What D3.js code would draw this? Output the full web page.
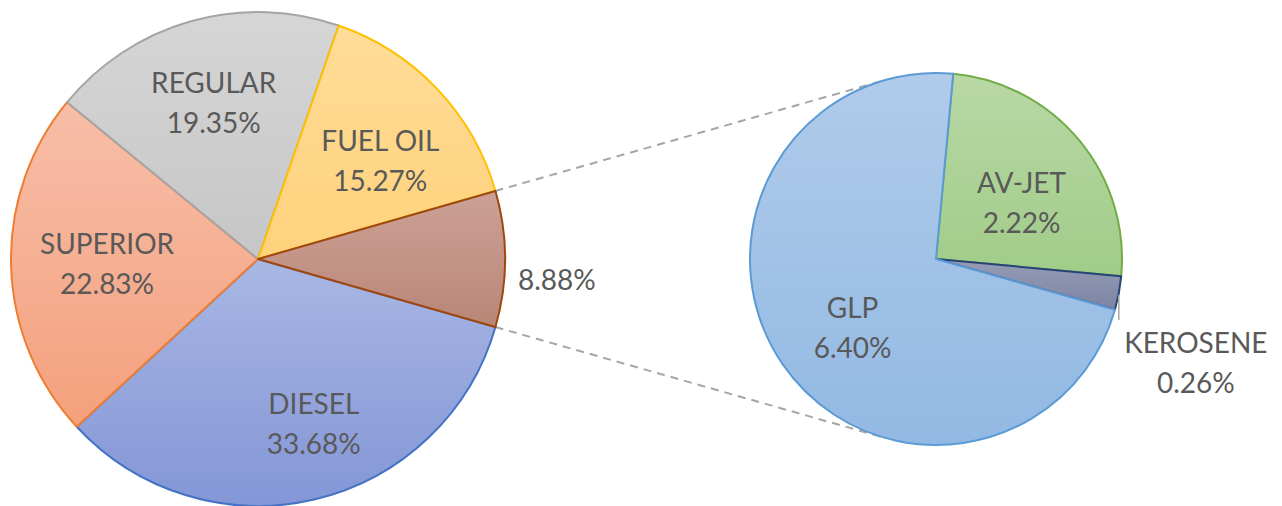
<!DOCTYPE html>
<html>
<head>
<meta charset="utf-8">
<script src="https://cdn.jsdelivr.net/npm/d3@7"></script>
<style>
  body { margin: 0; background: #fff; }
  svg text { font-family: Lato, "Open Sans", sans-serif; fill: #595959; }
</style>
</head>
<body>
<div id="chart"></div>
<script>
// main pie, clockwise starting after the "other" slice
const mainNames = ["DIESEL", "SUPERIOR", "REGULAR", "FUEL OIL", "OTHER"];
const mainValues = [33.68, 22.83, 19.35, 15.27, 8.88];
const mainLabels = ["33.68%", "22.83%", "19.35%", "15.27%", "8.88%"];

// second pie (breakdown of the 8.88%)
const subNames = ["AV-JET", "KEROSENE", "GLP"];
const subValues = [2.22, 0.26, 6.40];
const subLabels = ["2.22%", "0.26%", "6.40%"];

const mainStroke = ["#4472c4", "#ed7d31", "#a5a5a5", "#ffc000", "#9e480e"];
const mainFill = [["#a9b7e4", "#8396d6"], ["#f7bea9", "#f4a07c"], ["#d6d6d6", "#c6c6c6"],
                  ["#ffdc98", "#ffd27c"], ["#cda196", "#b98677"]];
const subStroke = ["#70ad47", "#264478", "#5b9bd5"];
const subFill = [["#b8d8a6", "#a1cc88"], ["#959cb6", "#7c84a3"], ["#b1cbea", "#92b9e3"]];

// small label nudges (px) on top of the computed centroid
const mainNudge = [[18, 6], [12, 0], [0, 0], [4, 14], [0, 21]];
const subNudge = [[4, 11], [0, 0], [4, 9]];

const width = 1282, height = 506;
const svg = d3.select("#chart").append("svg")
  .attr("width", width).attr("height", height);
const defs = svg.append("defs");

function grad(id, c) {
  const g = defs.append("linearGradient").attr("id", id)
    .attr("x1", 0).attr("y1", 0).attr("x2", 0).attr("y2", 1);
  g.append("stop").attr("offset", 0).attr("stop-color", c[0]);
  g.append("stop").attr("offset", 1).attr("stop-color", c[1]);
}
mainFill.forEach((c, i) => grad("gm" + i, c));
subFill.forEach((c, i) => grad("gs" + i, c));

// main pie geometry
const cx1 = 258, cy1 = 259, r1 = 247;
const otherAngle = mainValues[4] / d3.sum(mainValues) * 2 * Math.PI;
const start1 = Math.PI / 2 + otherAngle / 2;
const pie1 = d3.pie().sort(null).startAngle(start1).endAngle(start1 + 2 * Math.PI);
const arcs1 = pie1(mainValues);
const arc1 = d3.arc().innerRadius(0).outerRadius(r1);

// second pie geometry
const cx2 = 936, cy2 = 259, r2 = 186;
const avAngle = subValues[0] / d3.sum(subValues) * 2 * Math.PI;
const start2 = Math.PI / 2 - avAngle + 5.3 * Math.PI / 180;
const pie2 = d3.pie().sort(null).startAngle(start2).endAngle(start2 + 2 * Math.PI);
const arcs2 = pie2(subValues);
const arc2 = d3.arc().innerRadius(0).outerRadius(r2);

const pt = (cx, cy, r, a) => [cx + r * Math.sin(a), cy - r * Math.cos(a)];

// connector lines: tangents from the "other" slice corners to the second pie
function tangent(p, side) {
  const dx = cx2 - p[0], dy = cy2 - p[1];
  const d = Math.hypot(dx, dy);
  const th = Math.atan2(dy, dx) + side * Math.asin(r2 / d);
  const L = Math.sqrt(d * d - r2 * r2);
  return [p, [p[0] + L * Math.cos(th), p[1] + L * Math.sin(th)]];
}
const other = arcs1[4];
const conn = [
  tangent(pt(cx1, cy1, r1, other.startAngle), -1),
  tangent(pt(cx1, cy1, r1, other.endAngle), 1)
];
svg.selectAll("line.conn").data(conn).enter().append("line")
  .attr("class", "conn")
  .attr("x1", d => d[0][0]).attr("y1", d => d[0][1])
  .attr("x2", d => d[1][0]).attr("y2", d => d[1][1])
  .attr("stroke", "#a6a6a6").attr("stroke-width", 2)
  .attr("stroke-dasharray", "8,6");

const g1 = svg.append("g").attr("transform", `translate(${cx1},${cy1})`);
g1.selectAll("path").data(arcs1).enter().append("path")
  .attr("d", arc1)
  .attr("fill", (d, i) => `url(#gm${i})`)
  .attr("stroke", (d, i) => mainStroke[i])
  .attr("stroke-width", 2)
  .attr("stroke-linejoin", "round");

const g2 = svg.append("g").attr("transform", `translate(${cx2},${cy2})`);
g2.selectAll("path").data(arcs2).enter().append("path")
  .attr("d", arc2)
  .attr("fill", (d, i) => `url(#gs${i})`)
  .attr("stroke", (d, i) => subStroke[i])
  .attr("stroke-width", 2)
  .attr("stroke-linejoin", "round");

// labels
function twoLine(g, x, y, a, b) {
  const t = g.append("text").attr("text-anchor", "middle").attr("font-size", 28);
  t.append("tspan").attr("x", x).attr("y", y - 9.5).text(a);
  t.append("tspan").attr("x", x).attr("y", y + 30.5).text(b);
}
const mid = d => (d.startAngle + d.endAngle) / 2;

arcs1.forEach((d, i) => {
  const n = mainNudge[i];
  if (i === 4) {
    const p = pt(0, 0, r1 * 1.21, mid(d));
    g1.append("text").attr("text-anchor", "middle").attr("font-size", 28)
      .attr("x", p[0] + n[0]).attr("y", p[1] + n[1] + 10).text(mainLabels[i]);
  } else {
    const p = pt(0, 0, r1 * 0.66, mid(d));
    twoLine(g1, p[0] + n[0], p[1] + n[1], mainNames[i], mainLabels[i]);
  }
});

arcs2.forEach((d, i) => {
  if (i === 1) {
    // kerosene: outside with short leader
    const p = pt(0, 0, r2, mid(d));
    g2.append("line")
      .attr("x1", p[0]).attr("y1", p[1] + 2)
      .attr("x2", p[0]).attr("y2", p[1] + 27)
      .attr("stroke", "#a6a6a6").attr("stroke-width", 1.5);
    twoLine(g2, p[0] + 77, p[1] + 69, subNames[i], subLabels[i]);
  } else {
    const n = subNudge[i];
    const p = pt(0, 0, r2 * 0.57, mid(d));
    twoLine(g2, p[0] + n[0], p[1] + n[1], subNames[i], subLabels[i]);
  }
});
</script>
</body>
</html>
